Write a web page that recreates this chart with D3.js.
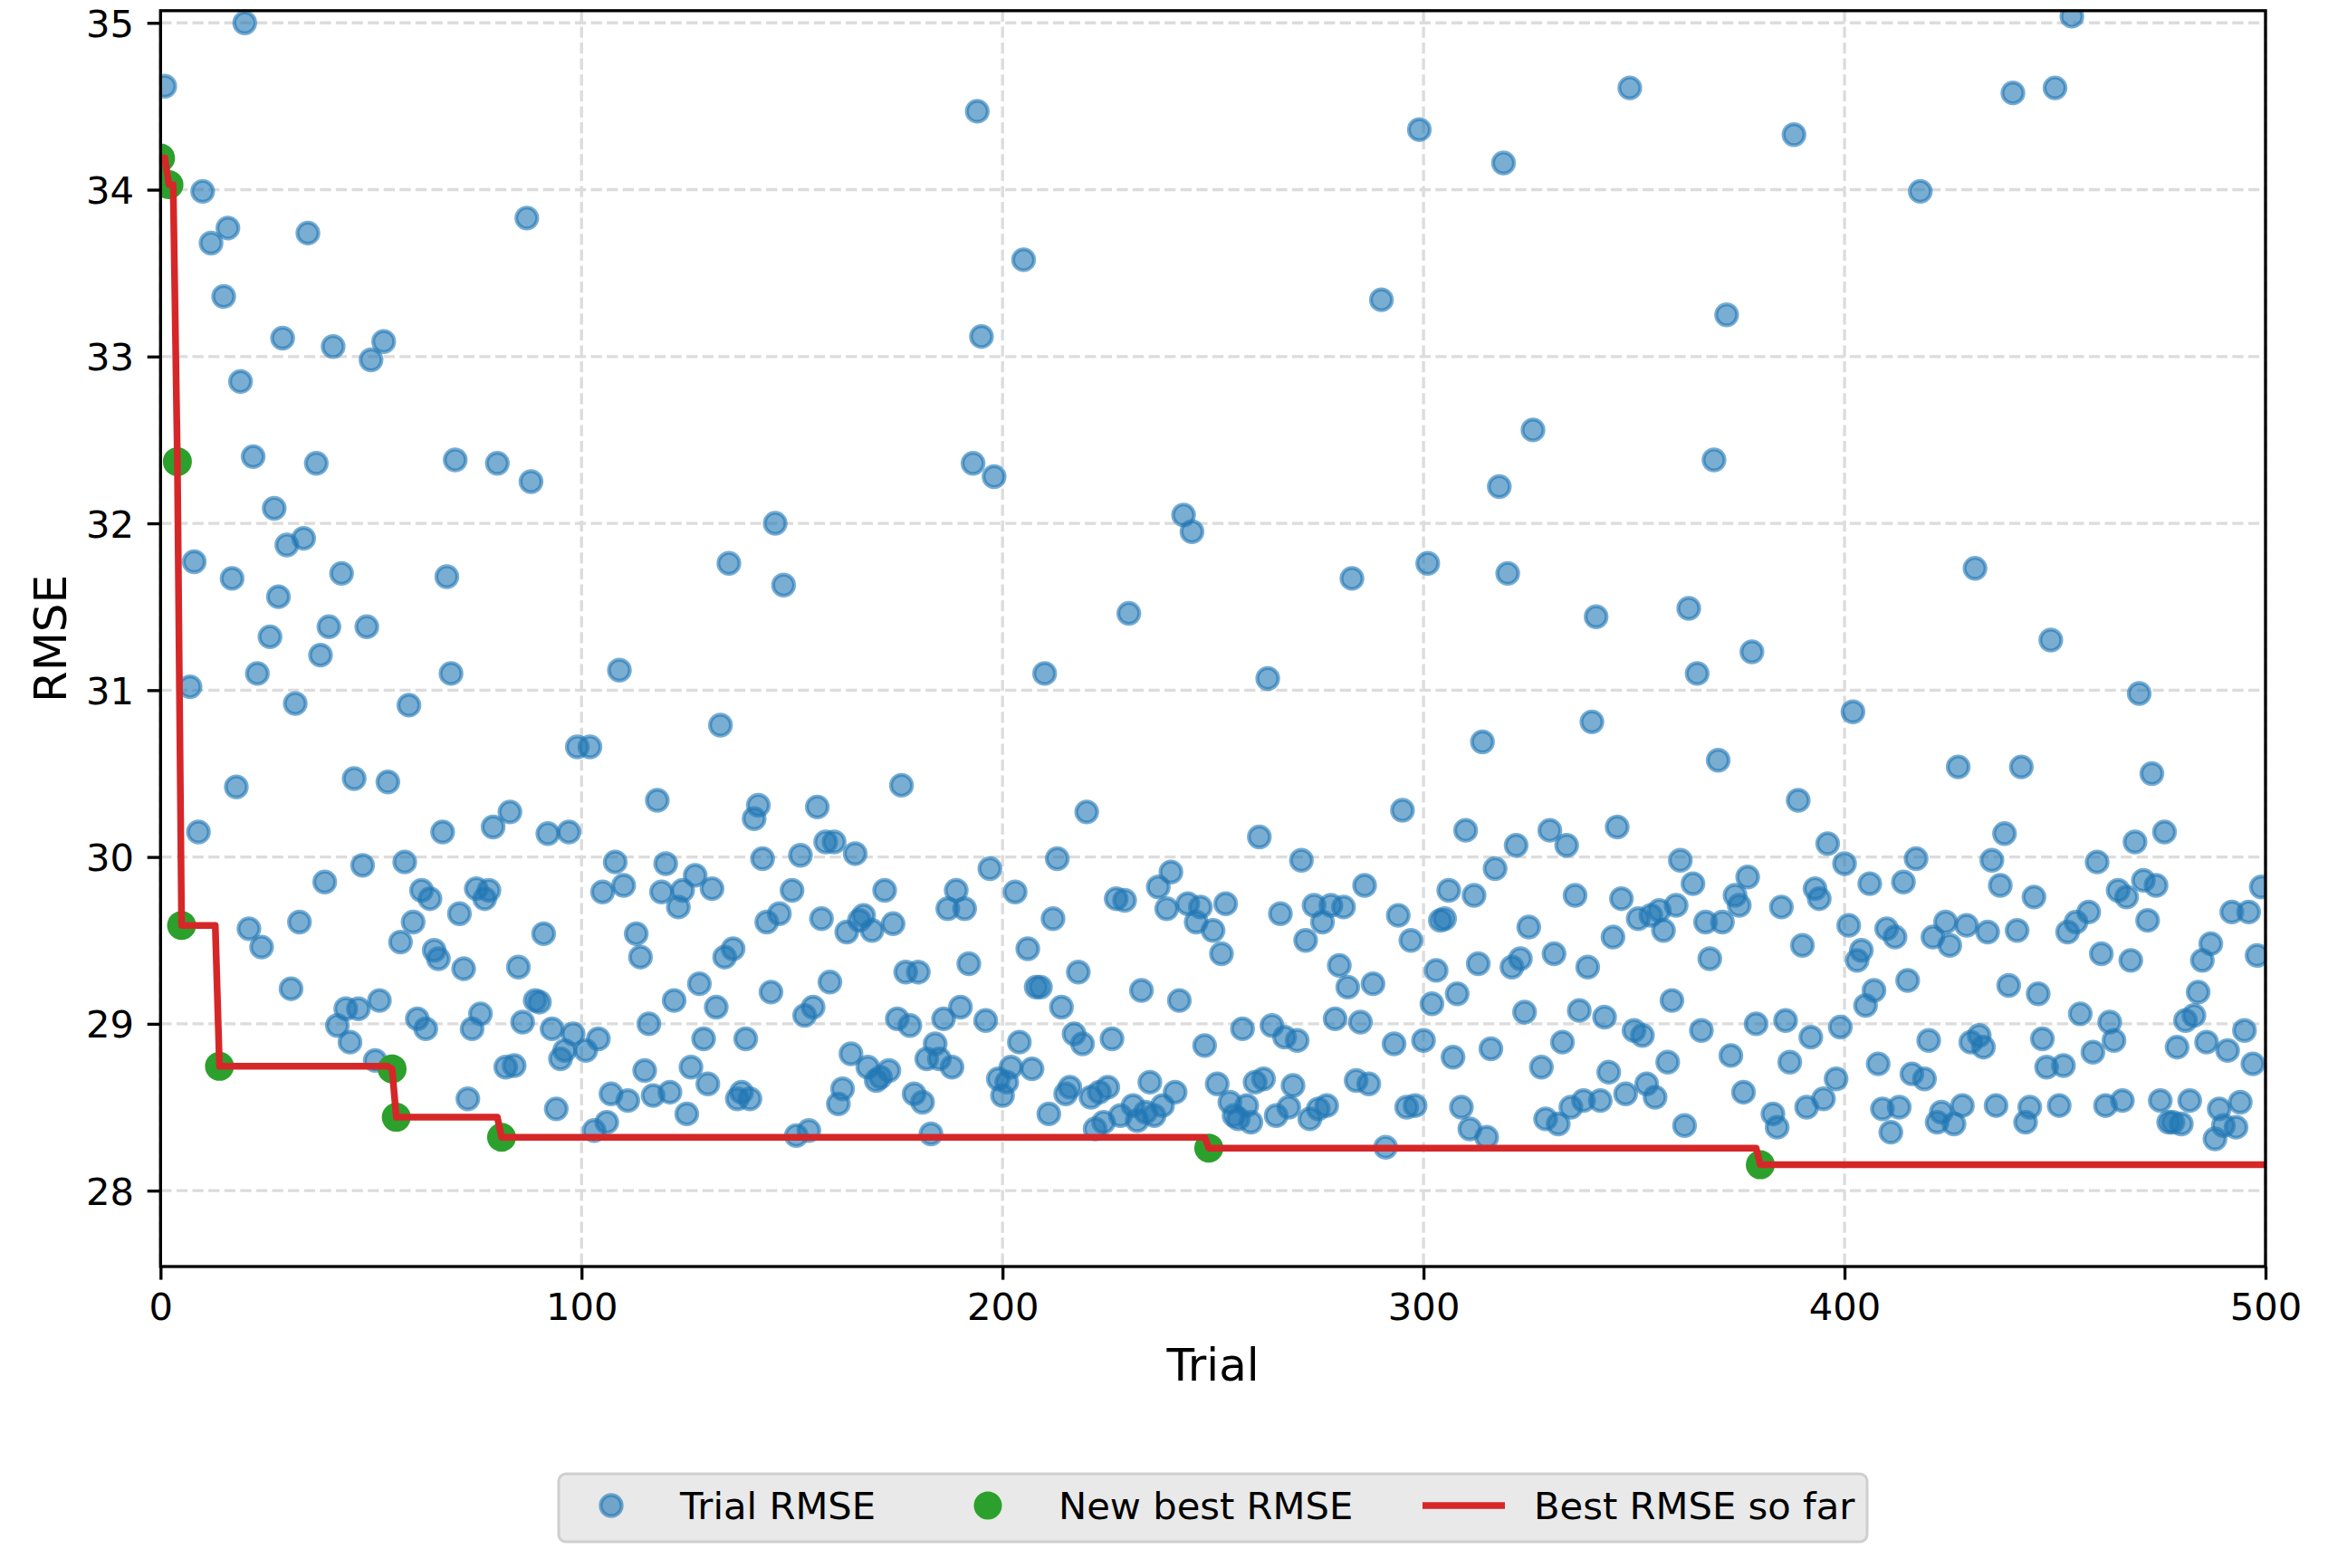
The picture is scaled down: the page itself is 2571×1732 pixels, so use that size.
<!DOCTYPE html>
<html><head><meta charset="utf-8">
<script src="https://cdn.jsdelivr.net/npm/d3@7"></script>
<style>html,body{margin:0;padding:0;background:#fff;} svg{display:block;font-family:"DejaVu Sans",sans-serif;}</style>
</head><body>
<script>
const xTicks = [0, 100, 200, 300, 400, 500];
const yTicks = [28, 29, 30, 31, 32, 33, 34, 35];
const seriesNames = ["Trial RMSE", "New best RMSE", "Best RMSE so far"];
const xLabel = "Trial";
const yLabel = "RMSE";
// RMSE per trial index (null = not visible in the plotted range)
const rmseByTrial = [
/*0*/   34.19, 34.62, 34.03, null, 32.37, 29.59, null, 31.02, 31.77, 30.15,
/*10*/  33.99, null, 33.68, null, 28.745, 33.36, 33.77, 31.67, 30.42, 32.85,
/*20*/  35.00, 29.57, 32.40, 31.10, 29.46, null, 31.32, 32.09, 31.56, 33.11,
/*30*/  31.87, 29.21, 30.92, 29.61, 31.91, 33.74, null, 32.36, 31.21, 29.85,
/*40*/  31.38, 33.06, 28.99, 31.70, 29.09, 28.89, 30.47, 29.09, 29.95, 31.38,
/*50*/  32.98, 28.78, 29.14, 33.09, 30.45, 28.73, 28.44, 29.49, 29.97, 30.91,
/*60*/  29.61, 29.03, 29.80, 28.97, 29.75, 29.44, 29.39, 30.15, 31.68, 31.10,
/*70*/  32.38, 29.66, 29.33, 28.55, 28.97, 29.81, 29.06, 29.75, 29.80, 30.18,
/*80*/  32.36, 28.32, 28.74, 30.27, 28.75, 29.34, 29.01, 33.83, 32.25, 29.14,
/*90*/  29.13, 29.54, 30.14, 28.97, 28.49, 28.79, 28.84, 30.15, 28.94, 30.66,
/*100*/ null, 28.84, 30.66, 28.36, 28.91, 29.79, 28.41, 28.58, 29.97, 31.12,
/*110*/ 29.83, 28.54, null, 29.54, 29.40, 28.72, 29.00, 28.57, 30.34, 29.79,
/*120*/ 29.96, 28.59, 29.14, 29.70, 29.80, 28.46, 28.74, 29.89, 29.24, 28.91,
/*130*/ 28.64, 29.81, 29.10, 30.79, 29.40, 31.76, 29.45, 28.55, 28.59, 28.91,
/*140*/ 28.55, 30.23, 30.31, 29.99, 29.61, 29.19, 32.00, 29.66, 31.63, null,
/*150*/ 29.80, 28.33, 30.01, 29.05, 28.36, 29.10, 30.30, 29.63, 30.09, 29.25,
/*160*/ 30.09, 28.52, 28.61, 29.55, 28.82, 30.02, 29.62, 29.65, 28.74, 29.56,
/*170*/ 28.66, 28.68, 29.80, 28.72, 29.60, 29.03, 30.43, 29.31, 28.99, 28.58,
/*180*/ 29.31, 28.53, 28.79, 28.34, 28.88, 28.79, 29.03, 29.69, 28.74, 29.80,
/*190*/ 29.10, 29.69, 29.36, 32.36, 34.47, 33.12, 29.02, 29.93, 32.28, 28.67,
/*200*/ 28.57, 28.65, 28.74, 29.79, 28.89, 33.58, 29.45, 28.73, 29.22, 29.22,
/*210*/ 31.10, 28.46, 29.63, 29.99, 29.10, 28.58, 28.62, 28.94, 29.31, 28.88,
/*220*/ 30.27, 28.56, 28.37, 28.59, 28.41, 28.62, 28.91, 29.75, 28.45, 29.74,
/*230*/ 31.46, 28.51, 28.42, 29.20, 28.47, 28.65, 28.45, 29.82, 28.51, 29.69,
/*240*/ 29.91, 28.59, 29.14, 32.05, 29.72, 31.95, 29.61, 29.70, 28.87, 28.255,
/*250*/ 29.56, 28.64, 29.42, 29.72, 28.53, 28.45, 28.43, 28.97, 28.51, 28.41,
/*260*/ 28.65, 30.12, 28.67, 31.07, 28.99, 28.45, 29.66, 28.92, 28.50, 28.63,
/*270*/ 28.90, 29.98, 29.50, 28.43, 29.71, 28.49, 29.61, 28.51, 29.71, 29.03,
/*280*/ 29.35, 29.70, 29.22, 31.67, 28.66, 29.01, 29.83, 28.64, 29.24, null,
/*290*/ 33.34, 28.26, null, 28.88, 29.65, 30.28, 28.50, 29.50, 28.51, 34.36,
/*300*/ 28.90, 31.76, 29.12, 29.32, 29.62, 29.63, 29.80, 28.80, 29.18, 28.50,
/*310*/ 30.16, 28.37, 29.77, 29.36, 30.69, 28.32, 28.85, 29.93, 32.22, 34.16,
/*320*/ 31.70, 29.34, 30.07, 29.39, 29.07, 29.58, 32.56, null, 28.74, 28.43,
/*330*/ 30.16, 29.42, 28.40, 28.89, 30.07, 28.50, 29.77, 29.08, 28.54, 29.34,
/*340*/ 30.81, 31.44, 28.54, 29.04, 28.71, 29.52, 30.18, 29.75, 28.58, 34.61,
/*350*/ 28.96, 29.63, 28.93, 28.64, 29.65, 28.56, 29.68, 29.56, 28.77, 29.14,
/*360*/ 29.71, 29.98, 28.39, 31.49, 29.84, 31.10, 28.96, 29.61, 29.39, 32.38,
/*370*/ 30.58, 29.61, 33.25, 28.81, 29.77, 29.71, 28.59, 29.88, 31.23, 29.00,
/*380*/ 28.155, null, null, 28.46, 28.38, 29.70, 29.02, 28.77, 34.33, 30.34,
/*390*/ 29.47, 28.50, 28.92, 29.81, 29.75, 28.55, 30.08, null, 28.67, 28.98,
/*400*/ 29.96, 29.59, 30.87, 29.38, 29.44, 29.11, 29.84, 29.20, 28.76, 28.49,
/*410*/ 29.57, 28.35, 29.52, 28.50, 29.85, 29.26, 28.70, 29.99, 33.99, 28.67,
/*420*/ 28.90, 29.52, 28.41, 28.47, 29.61, 29.47, 28.40, 30.54, 28.51, 29.59,
/*430*/ 28.89, 31.73, 28.93, 28.86, 29.55, 29.98, 28.51, 29.83, 30.14, 29.23,
/*440*/ 34.58, 29.56, 30.54, 28.41, 28.50, 29.76, 29.18, 28.91, 28.74, 31.30,
/*450*/ 34.61, 28.51, 28.75, 29.55, 35.04, 29.61, 29.06, null, 29.67, 28.83,
/*460*/ 29.97, 29.42, 28.51, 29.01, 28.90, 29.80, 28.54, 29.76, 29.38, 30.09,
/*470*/ 30.98, 29.86, 29.62, 30.50, 29.83, 28.54, 30.15, 28.41, 28.41, 28.86,
/*480*/ 28.40, 29.02, 28.54, 29.05, 29.19, 29.38, 28.89, 29.48, 28.31, 28.49,
/*490*/ 28.39, 28.84, 29.67, 28.38, 28.53, 28.96, 29.67, 28.76, 29.41, 29.82
];

const W = 2571, H = 1732;
const L = 177.3, R = 2502, T = 11.8, B = 1399;
const x = d3.scaleLinear().domain([0, 500]).range([L, R]);
const y = d3.scaleLinear().domain([27.545, 35.073]).range([B, T]);

const trialPts = [];
rmseByTrial.forEach((v, i) => { if (v !== null) trialPts.push({ trial: i, rmse: v }); });
let best = Infinity;
const newBest = [], bestLine = [];
rmseByTrial.forEach((v, i) => {
  if (v !== null && v < best) { best = v; newBest.push({ trial: i, rmse: v }); }
  bestLine.push({ trial: i, rmse: best });
});
// carry the final best value to the end of the axis
bestLine.push({ trial: x.domain()[1], rmse: best });

const svg = d3.select("body").append("svg").attr("width", W).attr("height", H);
svg.append("rect").attr("width", W).attr("height", H).attr("fill", "#fff");
svg.append("defs").append("clipPath").attr("id", "plotclip")
  .append("rect").attr("x", L).attr("y", T).attr("width", R - L).attr("height", B - T);

const gridColor = "#dcdcdc", lw = 3.33, dash = "12.3,5.3";
const grid = svg.append("g");
grid.selectAll(".gx").data(xTicks).enter().append("line")
  .attr("x1", d => x(d)).attr("x2", d => x(d)).attr("y1", T).attr("y2", B)
  .attr("stroke", gridColor).attr("stroke-width", lw).attr("stroke-dasharray", dash);
grid.selectAll(".gy").data(yTicks).enter().append("line")
  .attr("x1", L).attr("x2", R).attr("y1", d => y(d)).attr("y2", d => y(d))
  .attr("stroke", gridColor).attr("stroke-width", lw).attr("stroke-dasharray", dash);

const plot = svg.append("g").attr("clip-path", "url(#plotclip)");
plot.selectAll("circle.trial").data(trialPts).enter().append("circle")
  .attr("class", "trial")
  .attr("cx", d => x(d.trial)).attr("cy", d => y(d.rmse)).attr("r", 11.6)
  .attr("fill", "#1f77b4").attr("fill-opacity", 0.6)
  .attr("stroke", "#1f77b4").attr("stroke-opacity", 0.6).attr("stroke-width", 4.2);
plot.selectAll("circle.best").data(newBest).enter().append("circle")
  .attr("class", "best")
  .attr("cx", d => x(d.trial)).attr("cy", d => y(d.rmse)).attr("r", 16)
  .attr("fill", "#2ca02c");
plot.append("path").datum(bestLine)
  .attr("d", d3.line().x(d => x(d.trial)).y(d => y(d.rmse)))
  .attr("fill", "none").attr("stroke", "#d62728").attr("stroke-width", 7.5)
  .attr("stroke-linejoin", "round");

const fontTick = 41.7;
const xAxis = svg.append("g").attr("transform", `translate(0,${B})`)
  .call(d3.axisBottom(x).tickValues(xTicks).tickFormat(d3.format("d")).tickSize(14.6).tickPadding(14.6));
const yAxis = svg.append("g").attr("transform", `translate(${L},0)`)
  .call(d3.axisLeft(y).tickValues(yTicks).tickFormat(d3.format("d")).tickSize(14.6).tickPadding(14.6));
[xAxis, yAxis].forEach(g => {
  g.select(".domain").remove();
  g.selectAll(".tick line").attr("stroke", "#000").attr("stroke-width", lw);
  g.selectAll(".tick text").attr("fill", "#000").attr("font-size", fontTick)
    .attr("font-family", "DejaVu Sans");
});
yAxis.selectAll(".tick text").attr("dy", "0.36em");

svg.append("rect").attr("x", L).attr("y", T).attr("width", R - L).attr("height", B - T)
  .attr("fill", "none").attr("stroke", "#000").attr("stroke-width", lw);

svg.append("text").attr("x", (L + R) / 2).attr("y", 1525).attr("text-anchor", "middle")
  .attr("font-size", 50).attr("fill", "#000").text(xLabel);
svg.append("text").attr("transform", `translate(73,${(T + B) / 2}) rotate(-90)`)
  .attr("text-anchor", "middle").attr("font-size", 50).attr("fill", "#000").text(yLabel);

// legend
const lg = svg.append("g");
lg.append("rect").attr("x", 617).attr("y", 1628).attr("width", 1445).attr("height", 75).attr("rx", 8)
  .attr("fill", "#e9e9e9").attr("stroke", "#cfcfcf").attr("stroke-width", 3);
const ly = 1663;
lg.append("circle").attr("cx", 675).attr("cy", ly).attr("r", 11.6)
  .attr("fill", "#1f77b4").attr("fill-opacity", 0.6)
  .attr("stroke", "#1f77b4").attr("stroke-opacity", 0.6).attr("stroke-width", 4.2);
lg.append("circle").attr("cx", 1091).attr("cy", ly).attr("r", 15.5).attr("fill", "#2ca02c");
lg.append("line").attr("x1", 1571).attr("x2", 1662).attr("y1", ly).attr("y2", ly)
  .attr("stroke", "#d62728").attr("stroke-width", 7.5);
const lx = [751, 1169, 1694];
seriesNames.forEach((n, i) => {
  lg.append("text").attr("x", lx[i]).attr("y", 1678).attr("font-size", fontTick)
    .attr("fill", "#000").text(n);
});
</script>
</body></html>
